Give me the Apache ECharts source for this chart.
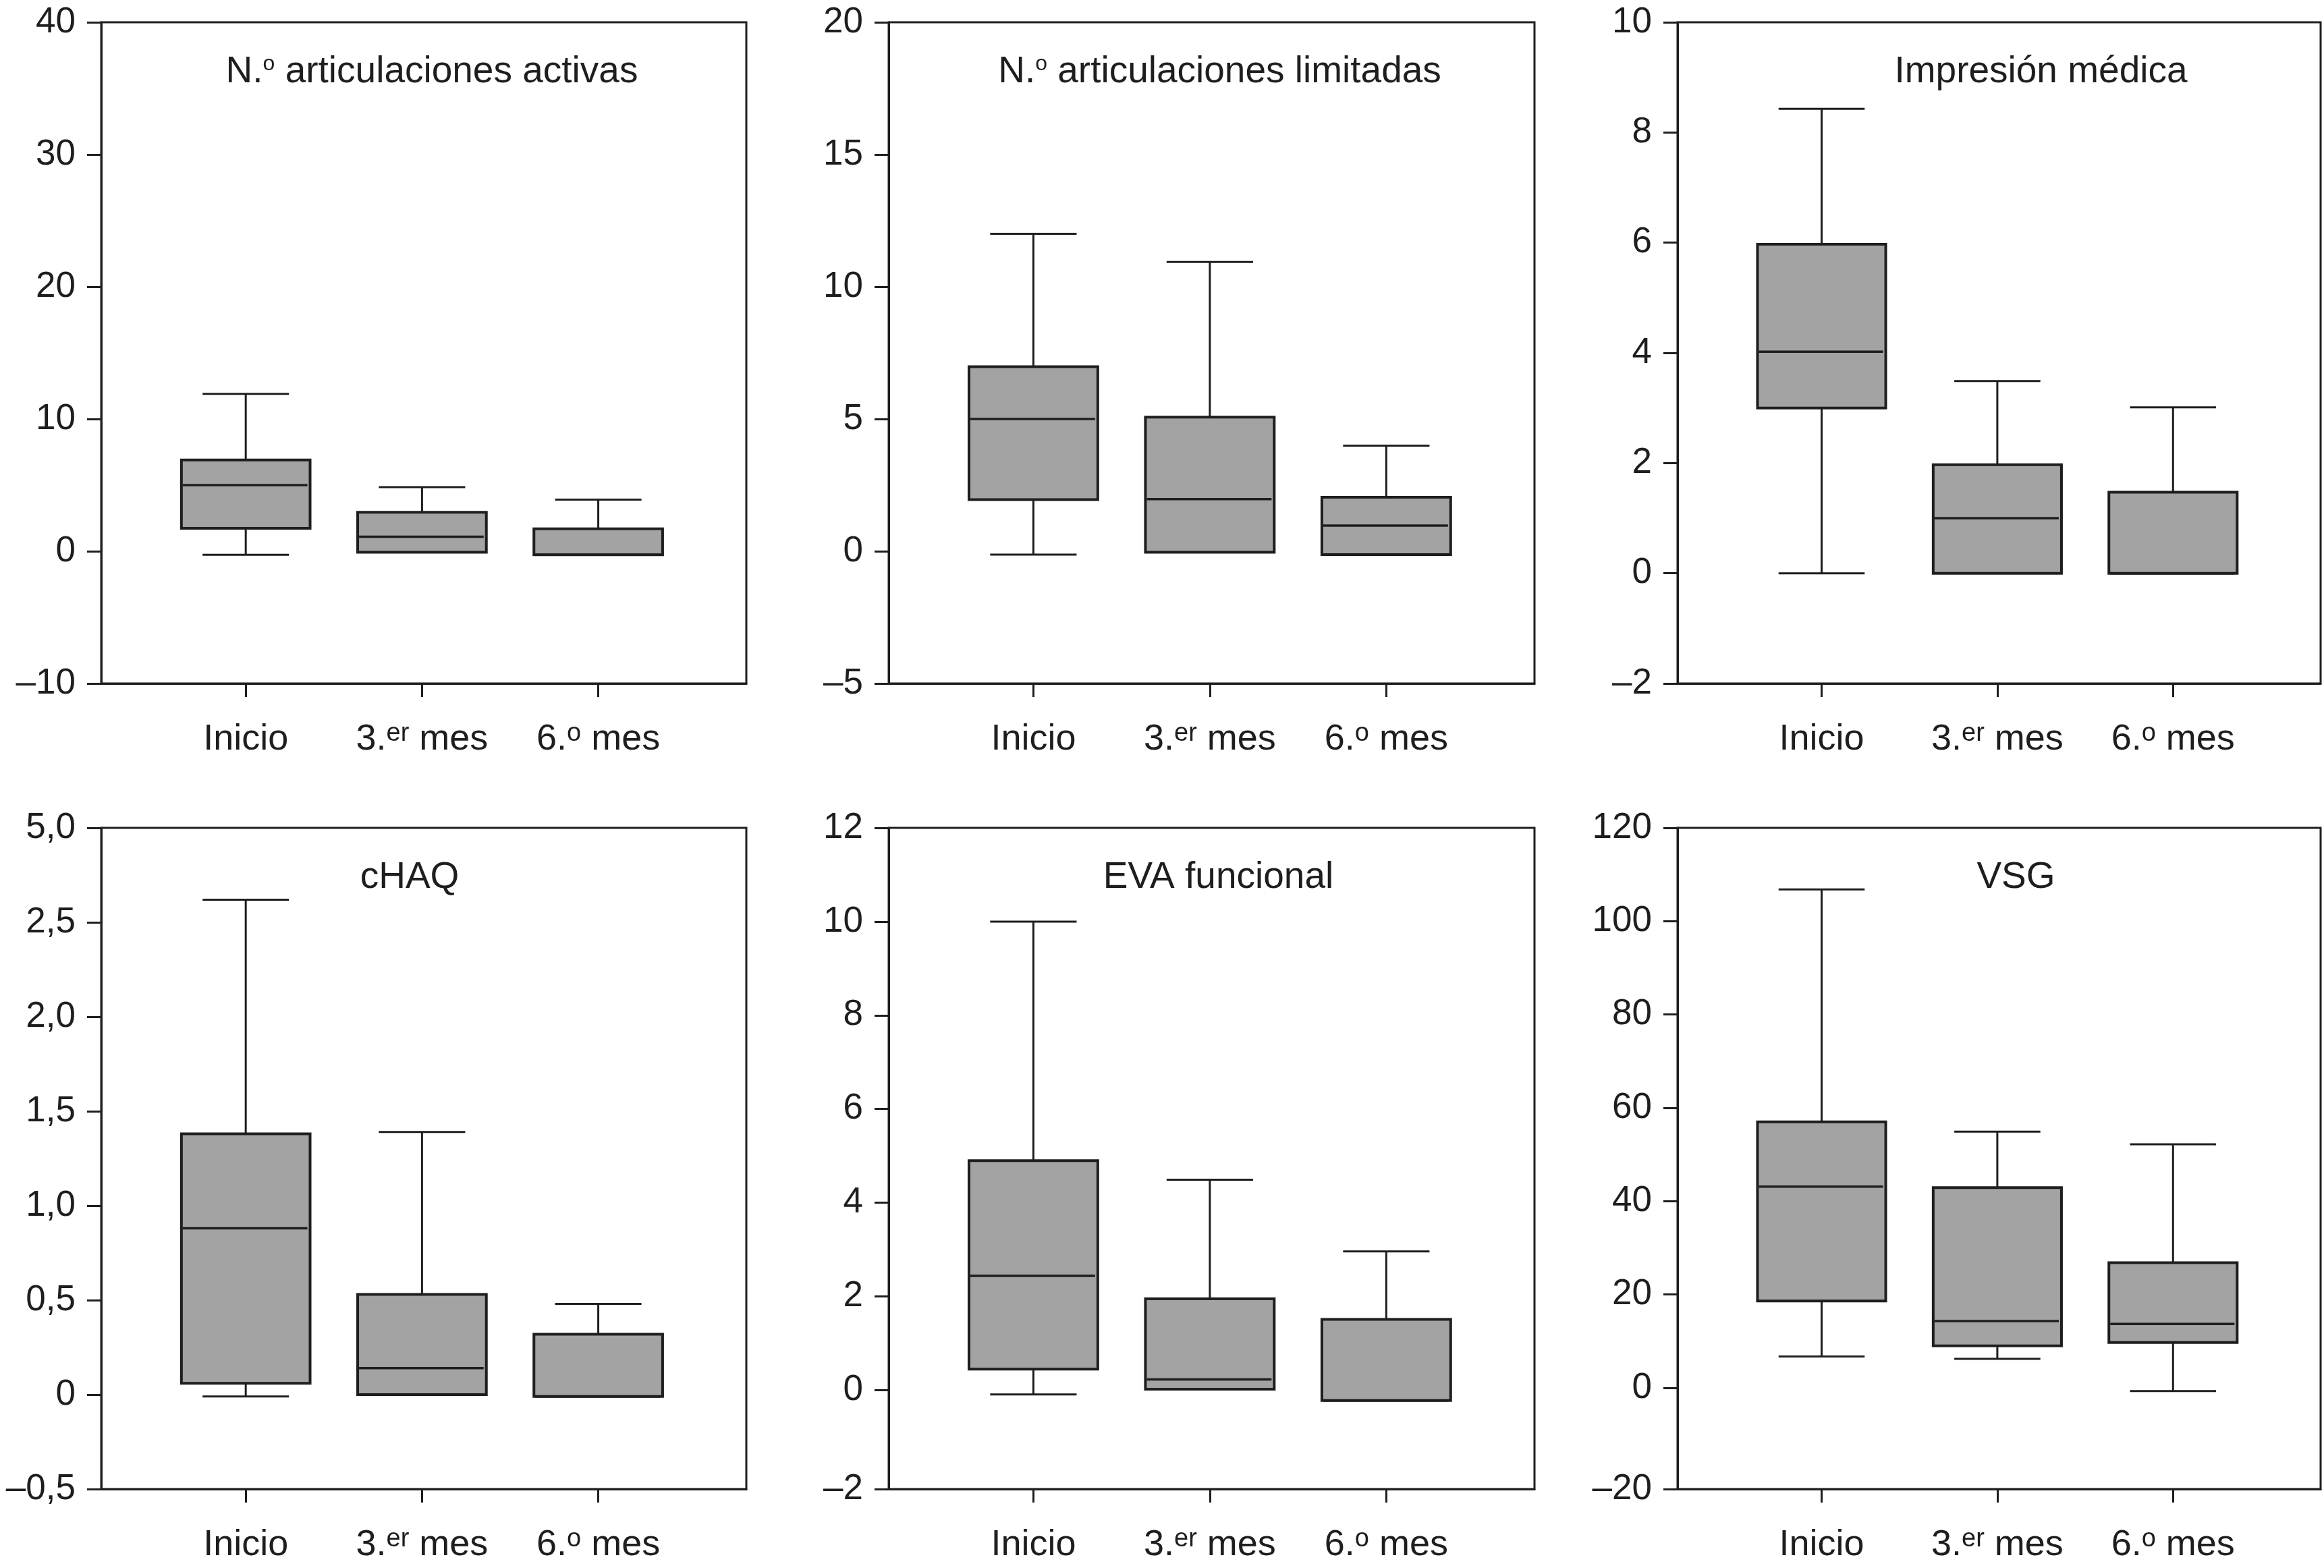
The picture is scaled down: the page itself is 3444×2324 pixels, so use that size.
<!DOCTYPE html>
<html><head><meta charset="utf-8">
<script src="https://cdn.jsdelivr.net/npm/echarts@6/dist/echarts.min.js"></script>
<style>html,body{margin:0;padding:0;background:#fff}#c{width:3444px;height:2324px}</style>
</head><body><div id="c"></div>
<script>
// ---------------- data ----------------
const categories = ['Inicio', '3.er mes', '6.º mes'];
const catPositions = [1, 2, 3];
const panelTitles = ['N.º articulaciones activas', 'N.º articulaciones limitadas', 'Impresión médica', 'cHAQ', 'EVA funcional', 'VSG'];

// each row: [min, Q1, median, Q3, max] for Inicio, 3.er mes, 6.º mes
const articActivas   = [[-0.27, 1.74, 5.0, 6.9, 11.9], [-0.08, -0.08, 1.1, 2.95, 4.85], [-0.27, -0.27, -0.27, 1.7, 3.9]];
const articLimitadas = [[-0.13, 1.95, 5.0, 6.98, 12.0], [-0.04, -0.04, 1.97, 5.07, 10.94], [-0.13, -0.13, 0.97, 2.04, 3.99]];
const impresionMedica= [[0, 3.0, 4.02, 5.97, 8.43], [0, 0, 1.0, 1.97, 3.49], [0, 0, 0, 1.47, 3.01]];
const cHAQ           = [[-0.01, 0.06, 0.88, 1.38, 2.62], [0.0, 0.0, 0.14, 0.53, 1.39], [-0.01, -0.01, -0.01, 0.32, 0.48]];
const evaFuncional   = [[-0.09, 0.45, 2.44, 4.9, 10.0], [0.02, 0.02, 0.23, 1.95, 4.49], [-0.22, -0.22, -0.22, 1.51, 2.96]];
const vsg            = [[6.7, 18.6, 43.1, 57.0, 106.8], [6.2, 9.0, 14.3, 42.9, 54.9], [-0.7, 9.7, 13.7, 26.8, 52.2]];
const panelData = [articActivas, articLimitadas, impresionMedica, cHAQ, evaFuncional, vsg];

const yMin = [-10, -5, -2, -0.5, -2.11, -21.7];
const yMax = [40, 20, 10, 3, 12, 120];
const yTickValues = [
  [-10, 0, 10, 20, 30, 40],
  [-5, 0, 5, 10, 15, 20],
  [-2, 0, 2, 4, 6, 8, 10],
  [-0.5, 0, 0.5, 1, 1.5, 2, 2.5, 3],
  [-2.11, 0, 2, 4, 6, 8, 10, 12],
  [-21.7, 0, 20, 40, 60, 80, 100, 120]
];
const yTickLabels = [
  ['–10', '0', '10', '20', '30', '40'],
  ['–5', '0', '5', '10', '15', '20'],
  ['–2', '0', '2', '4', '6', '8', '10'],
  ['–0,5', '0', '0,5', '1,0', '1,5', '2,0', '2,5', '5,0'],
  ['–2', '0', '2', '4', '6', '8', '10', '12'],
  ['–20', '0', '20', '40', '60', '80', '100', '120']
];

// ---------------- layout ----------------
const colLeft = [150, 1317, 2486];
const colWidth = [956, 957, 953];
const rowTop = [33, 1227];
const plotH = 980;
const titleShift = [12, 12, 62, -21, 10, 25];
const titleDy = 74;
const INK = '#1e1e1e';
const FONT = '"Liberation Sans", Arial, Helvetica, sans-serif';

function toRich(s) {
  return s.replace(/(\d\.)(er|º)/, (m, a, b) => a + '{s|' + (b === 'º' ? 'o' : b) + '}')
          .replace(/N\.º/, 'N.{d|o}');
}

function renderBox(params, api) {
  const x = api.value(0);
  const mn = api.value(1), q1 = api.value(2), md = api.value(3), q3 = api.value(4), mx = api.value(5);
  const unit = api.size([1, 0])[0];
  const bw = unit * 0.73, cw = unit * 0.49;
  const c = api.coord([x, 0])[0];
  const y = v => api.coord([x, v])[1];
  const line = (x1, y1, x2, y2, w) => ({ type: 'line', shape: { x1, y1, x2, y2 }, style: { stroke: INK, lineWidth: w } });
  const ch = [];
  if (mx > q3 + 1e-9) {
    ch.push(line(c, y(q3), c, y(mx), 3));
    ch.push(line(c - cw / 2, y(mx), c + cw / 2, y(mx), 3));
  }
  if (mn < q1 - 1e-9) {
    ch.push(line(c, y(q1), c, y(mn), 3));
    ch.push(line(c - cw / 2, y(mn), c + cw / 2, y(mn), 3));
  }
  ch.push({ type: 'rect', shape: { x: c - bw / 2, y: y(q3), width: bw, height: y(q1) - y(q3) },
            style: { fill: '#a3a3a3', stroke: INK, lineWidth: 4 } });
  ch.push(line(c - bw / 2 + 2, y(md), c + bw / 2 - 4, y(md), 3.5));
  return { type: 'group', children: ch };
}

const grids = [], xAxes = [], yAxes = [], series = [], graphics = [];
for (let i = 0; i < 6; i++) {
  const col = i % 3, row = Math.floor(i / 3);
  grids.push({ left: colLeft[col], top: rowTop[row], width: colWidth[col], height: plotH,
               show: true, borderColor: INK, borderWidth: 3, backgroundColor: 'transparent' });
  xAxes.push({
    type: 'value', gridIndex: i, min: 0.18, max: 3.84, position: 'bottom',
    axisLine: { show: true, onZero: false, lineStyle: { color: INK, width: 3 } },
    splitLine: { show: false },
    axisTick: { show: true, customValues: catPositions, length: 20, lineStyle: { color: INK, width: 3 } },
    axisLabel: {
      customValues: catPositions, margin: 56, color: INK, fontFamily: FONT, fontSize: 54,
      formatter: v => toRich(categories[Math.round(v) - 1]),
      rich: { s: { fontSize: 38, fontFamily: FONT, color: INK, verticalAlign: 'top', lineHeight: 40 } }
    }
  });
  const tv = yTickValues[i], tl = yTickLabels[i];
  yAxes.push({
    type: 'value', gridIndex: i, min: yMin[i], max: yMax[i], position: 'left',
    axisLine: { show: true, onZero: false, lineStyle: { color: INK, width: 3 } },
    splitLine: { show: false },
    axisTick: { show: true, customValues: tv, length: 21, lineStyle: { color: INK, width: 3 } },
    axisLabel: {
      customValues: tv, margin: 38, color: INK, fontFamily: FONT, fontSize: 53,
      formatter: v => { let k = 0, d = Infinity; tv.forEach((t, j) => { if (Math.abs(t - v) < d) { d = Math.abs(t - v); k = j; } }); return tl[k]; }
    }
  });
  series.push({
    type: 'custom', xAxisIndex: i, yAxisIndex: i, clip: false,
    renderItem: renderBox,
    encode: { x: 0, y: [1, 2, 3, 4, 5] },
    data: panelData[i].map((s, j) => [catPositions[j]].concat(s))
  });
  graphics.push({
    type: 'text',
    x: colLeft[col] + colWidth[col] / 2 + titleShift[i],
    y: rowTop[row] + titleDy,
    style: {
      text: toRich(panelTitles[i]), fill: INK, font: '55px ' + FONT,
      align: 'center', verticalAlign: 'middle',
      rich: { d: { fontSize: 32, fontFamily: FONT, fill: INK, verticalAlign: 'top', lineHeight: 36 } }
    }
  });
}

const chart = echarts.init(document.getElementById('c'), null, { renderer: 'canvas' });
chart.setOption({
  animation: false,
  backgroundColor: '#fff',
  grid: grids, xAxis: xAxes, yAxis: yAxes, series: series,
  graphic: graphics
});
</script></body></html>
